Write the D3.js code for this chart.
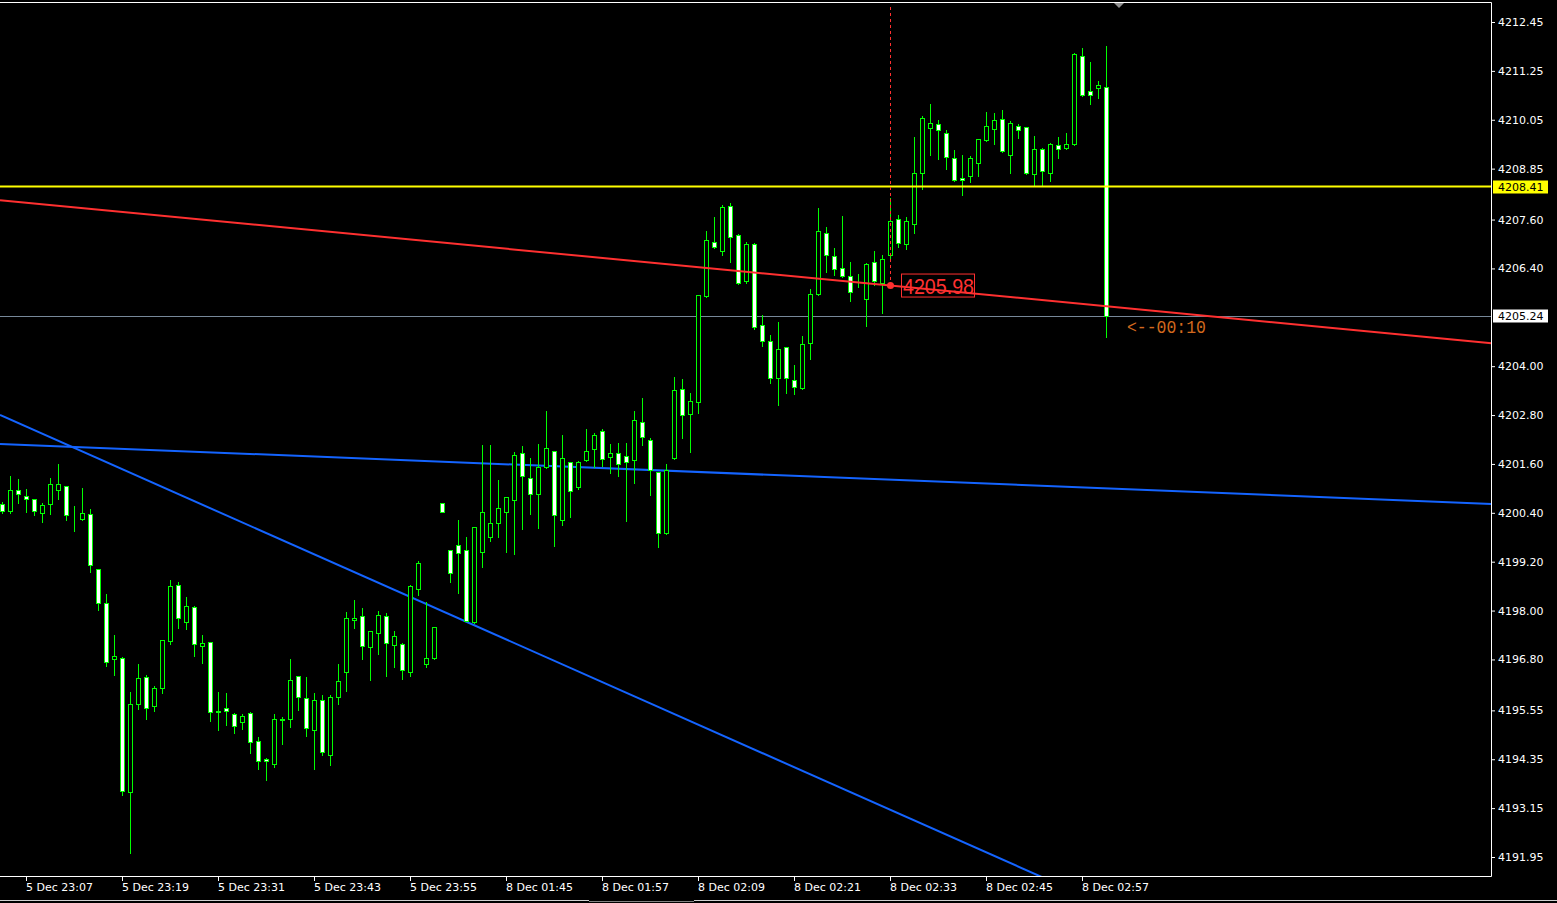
<!DOCTYPE html>
<html><head><meta charset="utf-8">
<script src="https://cdn.jsdelivr.net/npm/d3@7"></script>
<style>
html,body{margin:0;padding:0;background:#000;overflow:hidden;}
svg{display:block;}
</style></head>
<body>
<svg id="chart" width="1557" height="903"></svg>
<script>
// ---------------- DATA ----------------
const dec5Times = "23:04 23:05 23:06 23:07 23:08 23:09 23:10 23:11 23:12 23:13 23:14 23:15 23:16 23:17 23:18 23:19 23:20 23:21 23:22 23:23 23:24 23:25 23:26 23:27 23:28 23:29 23:30 23:31 23:32 23:33 23:34 23:35 23:36 23:37 23:38 23:39 23:40 23:41 23:42 23:43 23:44 23:45 23:46 23:47 23:48 23:49 23:50 23:51 23:52 23:53 23:54 23:55 23:56 23:57 23:58 23:59".split(" ");
const dec8Times = "01:38 01:39 01:40 01:41 01:42 01:43 01:44 01:45 01:46 01:47 01:48 01:49 01:50 01:51 01:52 01:53 01:54 01:55 01:56 01:57 01:58 01:59 02:00 02:01 02:02 02:03 02:04 02:05 02:06 02:07 02:08 02:09 02:10 02:11 02:12 02:13 02:14 02:15 02:16 02:17 02:18 02:19 02:20 02:21 02:22 02:23 02:24 02:25 02:26 02:27 02:28 02:29 02:30 02:31 02:32 02:33 02:34 02:35 02:36 02:37 02:38 02:39 02:40 02:41 02:42 02:43 02:44 02:45 02:46 02:47 02:48 02:49 02:50 02:51 02:52 02:53 02:54 02:55 02:56 02:57 02:58 02:59 03:00".split(" ");
const categories = dec5Times.map(t => "5 Dec " + t).concat(dec8Times.map(t => "8 Dec " + t));

const open = [4200.62,4200.45,4200.95,4200.81,4200.73,4200.40,4200.61,4200.95,4201.05,4200.28,
4200.24,4200.36,4199.01,4198.18,4196.80,4196.83,4193.55,4195.70,4196.36,4195.65,
4196.10,4197.25,4198.62,4197.71,4198.08,4197.12,4197.22,4195.52,4195.60,4195.45,
4195.26,4195.48,4194.81,4194.35,4194.23,4195.32,4195.33,4196.39,4195.85,4195.08,
4195.80,4194.45,4195.87,4196.48,4197.76,4197.86,4197.11,4197.46,4197.86,4197.16,
4197.19,4196.50,4198.52,4196.68,4196.84,4200.63,4199.48,4199.60,4199.48,4197.71,
4199.43,4199.80,4200.14,4200.41,4200.71,4201.86,4201.25,4200.85,4201.52,4201.91,
4200.22,4201.64,4201.03,4201.69,4201.96,4202.40,4201.76,4201.86,4201.79,4201.69,
4202.62,4202.20,4201.39,4199.90,4201.74,4203.43,4202.82,4203.11,4205.72,4207.04,
4206.84,4207.93,4207.21,4206.08,4206.99,4205.00,4204.61,4203.70,4204.46,4203.65,
4203.46,4204.56,4205.76,4207.26,4206.70,4206.40,4206.21,4206.01,4205.64,4206.55,
4206.03,4206.72,4207.61,4206.99,4207.48,4208.74,4209.84,4209.94,4209.72,4209.10,
4208.61,4208.66,4208.98,4209.55,4209.82,4210.06,4209.18,4209.89,4209.86,4208.71,
4209.32,4208.74,4209.42,4209.35,4209.45,4211.61,4210.75,4210.82,4210.85];
const high = [4200.67,4201.30,4201.23,4200.98,4200.75,4200.63,4201.25,4201.60,4201.07,4200.57,
4201.01,4200.49,4199.03,4198.41,4197.40,4196.85,4196.00,4196.69,4196.41,4196.14,
4197.28,4198.74,4198.69,4198.33,4198.10,4197.40,4197.23,4196.00,4195.98,4195.48,
4195.45,4195.50,4194.89,4194.37,4195.45,4195.38,4196.81,4196.40,4196.37,4195.97,
4195.92,4195.92,4196.68,4197.96,4198.25,4198.06,4197.50,4197.99,4197.93,4197.49,
4197.20,4198.63,4199.21,4198.20,4197.60,4200.63,4199.49,4200.22,4199.81,4200.05,
4202.06,4202.06,4201.20,4200.79,4201.89,4202.03,4201.74,4202.08,4202.89,4201.92,
4202.30,4201.65,4201.66,4202.45,4202.35,4202.47,4202.08,4202.11,4202.11,4202.89,
4203.21,4202.23,4201.40,4201.59,4203.73,4203.68,4203.33,4205.75,4207.32,4207.66,
4207.96,4208.00,4207.24,4207.04,4207.02,4205.25,4204.76,4205.08,4204.47,4204.02,
4204.73,4205.89,4207.88,4207.41,4206.89,4207.68,4206.57,4206.26,4206.53,4206.82,
4206.72,4208.12,4207.70,4207.66,4209.62,4210.14,4210.43,4210.04,4209.79,4209.30,
4209.18,4209.15,4209.58,4210.23,4210.21,4210.28,4210.01,4209.94,4209.87,4209.64,
4209.35,4209.47,4209.62,4209.72,4211.68,4211.80,4211.46,4211.00,4211.85];
const low = [4200.39,4200.39,4200.63,4200.43,4200.35,4200.18,4200.38,4200.75,4200.23,4199.96,
4200.22,4198.95,4198.02,4196.65,4196.42,4193.48,4192.05,4195.58,4195.33,4195.53,
4195.97,4197.17,4197.56,4197.55,4196.89,4196.72,4195.30,4195.07,4195.20,4195.00,
4195.10,4194.51,4194.12,4193.85,4194.15,4194.73,4195.13,4195.56,4194.93,4194.12,
4194.45,4194.20,4195.71,4196.02,4197.56,4196.82,4196.30,4196.94,4196.40,4196.62,
4196.33,4196.40,4198.39,4196.62,4196.82,4200.41,4198.71,4198.44,4197.74,4197.70,
4199.08,4199.72,4199.81,4199.44,4199.38,4200.01,4200.38,4200.03,4201.49,4199.59,
4200.09,4200.29,4200.98,4201.68,4201.52,4201.54,4201.37,4201.30,4200.19,4201.12,
4202.06,4200.83,4199.55,4199.89,4201.71,4202.23,4201.89,4202.85,4205.71,4206.91,
4206.72,4206.56,4206.02,4206.03,4204.91,4204.49,4203.58,4203.05,4203.33,4203.31,
4203.45,4204.17,4205.74,4206.32,4206.23,4206.20,4205.59,4205.94,4204.98,4205.99,
4205.30,4206.66,4206.92,4206.87,4207.28,4208.36,4209.18,4209.08,4208.83,4208.55,
4208.21,4208.53,4208.66,4209.54,4209.45,4209.27,4208.74,4209.59,4208.71,4208.44,
4208.44,4208.54,4209.10,4209.34,4209.42,4210.63,4210.43,4210.58,4204.71];
const close = [4200.45,4200.95,4200.85,4200.73,4200.45,4200.58,4201.10,4201.10,4200.34,4200.28,
4200.39,4199.11,4198.18,4196.73,4196.88,4193.58,4195.70,4196.34,4195.62,4196.09,
4197.27,4198.60,4197.81,4198.10,4197.17,4197.20,4195.50,4195.53,4195.53,4195.16,
4195.40,4194.77,4194.30,4194.30,4195.35,4195.33,4196.29,4195.89,4195.11,4195.80,
4194.52,4195.87,4196.26,4197.81,4197.81,4197.12,4197.49,4197.88,4197.21,4197.37,
4196.53,4198.60,4199.18,4196.83,4197.59,4200.41,4198.93,4199.41,4197.75,4200.04,
4200.41,4200.14,4200.51,4200.78,4201.81,4201.30,4200.85,4201.52,4201.98,4200.34,
4201.74,4200.93,4201.64,4201.91,4202.30,4201.71,4201.86,4201.59,4201.64,4202.67,
4202.25,4201.44,4199.90,4201.44,4203.41,4202.79,4203.14,4205.74,4207.11,4206.92,
4207.90,4207.16,4206.03,4206.99,4204.95,4204.61,4203.70,4204.41,4203.70,4203.50,
4204.54,4205.76,4207.31,4206.72,4206.38,4206.21,4205.81,4206.02,4206.52,4206.08,
4206.62,4207.56,4207.02,4207.56,4208.74,4210.09,4209.96,4209.79,4209.13,4208.56,
4208.56,4209.10,4209.57,4209.89,4210.04,4209.28,4209.96,4209.79,4208.74,4209.32,
4208.78,4209.45,4209.32,4209.45,4211.66,4210.67,4210.67,4210.90,4205.24];

const timeTickLabels = ["5 Dec 23:07","5 Dec 23:19","5 Dec 23:31","5 Dec 23:43","5 Dec 23:55",
  "8 Dec 01:45","8 Dec 01:57","8 Dec 02:09","8 Dec 02:21","8 Dec 02:33","8 Dec 02:45","8 Dec 02:57"];
const priceTickLabels = [4212.45,4211.25,4210.05,4208.85,4207.60,4206.40,4204.00,4202.80,
  4201.60,4200.40,4199.20,4198.00,4196.80,4195.55,4194.35,4193.15,4191.95];

const yellowLevel = 4208.41;
const bidPrice = 4205.24;
const redTrend = [["5 Dec 23:04", 4208.07], ["8 Dec 02:33", 4205.98]];
const blueTrendFlat = [["5 Dec 23:04", 4202.09], ["8 Dec 03:00", 4201.00]];
const blueTrendSteep = [["5 Dec 23:04", 4202.78], ["8 Dec 02:22", 4194.07]];
const markerPoint = ["8 Dec 02:33", 4205.98];
const countdownText = "<--00:10";

// ---------------- SCALES ----------------
const W = 1557, H = 903;
const plot = {left: 0, top: 2.5, right: 1491.5, bottom: 876.5};
const svg = d3.select("#chart");

const x = d3.scalePoint().domain(categories).range([2, 1106]);
const y = d3.scaleLinear().domain([4191.95, 4212.45]).range([857, 22]);

svg.append("rect").attr("width", W).attr("height", H).attr("fill", "#000");

svg.append("defs").append("clipPath").attr("id", "clip")
  .append("rect").attr("x", 0).attr("y", plot.top).attr("width", plot.right).attr("height", plot.bottom - plot.top);

const g = svg.append("g").attr("clip-path", "url(#clip)");

// bid line
g.append("line").attr("x1", 0).attr("x2", plot.right)
  .attr("y1", Math.round(y(bidPrice)) + 0.5).attr("y2", Math.round(y(bidPrice)) + 0.5)
  .attr("stroke", "#778899").attr("stroke-width", 1);

// trend lines (extended across the plot)
function drawTrend(pts, color) {
  const x1 = x(pts[0][0]), y1 = y(pts[0][1]);
  const x2 = x(pts[1][0]), y2 = y(pts[1][1]);
  const slope = (y2 - y1) / (x2 - x1);
  const xa = plot.left, xb = plot.right;
  g.append("line")
    .attr("x1", xa).attr("y1", y1 + slope * (xa - x1))
    .attr("x2", xb).attr("y2", y1 + slope * (xb - x1))
    .attr("stroke", color).attr("stroke-width", 2);
}
drawTrend(blueTrendFlat, "#1464ff");
drawTrend(blueTrendSteep, "#1464ff");

// candles
const bars = categories.map((c, i) => ({c, o: open[i], h: high[i], l: low[i], cl: close[i]}));
const cg = g.append("g").attr("shape-rendering", "crispEdges");
bars.forEach(d => {
  const cx = x(d.c);
  const yH = Math.round(y(d.h)), yL = Math.round(y(d.l));
  const yT = Math.round(y(Math.max(d.o, d.cl))), yB = Math.round(y(Math.min(d.o, d.cl)));
  cg.append("line").attr("x1", cx + 0.5).attr("x2", cx + 0.5)
    .attr("y1", yH).attr("y2", yL + 1).attr("stroke", "#00ff00").attr("stroke-width", 1);
  const bull = d.cl >= d.o;
  cg.append("rect").attr("x", cx - 1.5).attr("y", yT + 0.5)
    .attr("width", 4).attr("height", Math.max(0, yB - yT))
    .attr("fill", bull ? "#000" : "#fff")
    .attr("stroke", "#00ff00").attr("stroke-width", 1);
});

// red trend line and yellow level above candles
drawTrend(redTrend, "#ff3030");
g.append("line").attr("x1", 0).attr("x2", plot.right)
  .attr("y1", y(yellowLevel)).attr("y2", y(yellowLevel))
  .attr("stroke", "#ffff00").attr("stroke-width", 2);

// vertical dashed marker line
const mx = x(markerPoint[0]), my = y(markerPoint[1]);
g.append("line").attr("x1", mx + 0.5).attr("x2", mx + 0.5)
  .attr("y1", 7).attr("y2", my)
  .attr("stroke", "#ff3030").attr("stroke-width", 1).attr("stroke-dasharray", "3,3");
g.append("circle").attr("cx", mx + 0.5).attr("cy", my).attr("r", 3.5).attr("fill", "#ff3030");

// marker label
g.append("rect").attr("x", mx + 11.5).attr("y", my - 11.5).attr("width", 73).attr("height", 23)
  .attr("fill", "none").attr("stroke", "#ff3030").attr("stroke-width", 1);
g.append("text").attr("x", mx + 13).attr("y", my + 8)
  .attr("font-family", "Liberation Sans, Arial, sans-serif").attr("font-size", 22)
  .attr("textLength", 71).attr("lengthAdjust", "spacingAndGlyphs")
  .attr("fill", "#ff3030").text(markerPoint[1].toFixed(2));

// countdown text
g.append("text").attr("x", x(categories[categories.length - 1]) + 21).attr("y", y(bidPrice) + 17)
  .attr("font-family", "Liberation Mono, DejaVu Sans Mono, monospace").attr("font-size", 18)
  .attr("textLength", 79).attr("lengthAdjust", "spacingAndGlyphs")
  .attr("fill", "#d2691e").text(countdownText);

// chart-shift triangle
svg.append("path").attr("d", "M1114,3 L1124,3 L1119,8 Z").attr("fill", "#909090");

// frame
svg.append("path")
  .attr("d", `M0,${plot.top} H${plot.right} V${plot.bottom} H0`)
  .attr("fill", "none").attr("stroke", "#ffffff").attr("stroke-width", 1);

// x axis
const xAxis = d3.axisBottom(x).tickValues(timeTickLabels).tickSize(4).tickSizeOuter(0).tickFormat(d => d);
const xg = svg.append("g").attr("transform", `translate(0,${plot.bottom + 0.5})`).call(xAxis);
xg.select(".domain").remove();
xg.selectAll(".tick line").attr("stroke", "#ffffff");
xg.selectAll(".tick text").attr("fill", "#ffffff").attr("text-anchor", "start")
  .attr("x", -0.5).attr("y", 6).attr("dy", "0.71em")
  .attr("font-family", "DejaVu Sans, sans-serif").attr("font-size", 11);

// y axis
const yAxis = d3.axisRight(y).tickValues(priceTickLabels).tickSize(3).tickFormat(d3.format(".2f"));
const yg = svg.append("g").attr("transform", `translate(${plot.right + 0.5},0)`).call(yAxis);
yg.select(".domain").remove();
yg.selectAll(".tick line").attr("stroke", "#ffffff");
yg.selectAll(".tick text").attr("fill", "#ffffff").attr("x", 6)
  .attr("font-family", "DejaVu Sans, sans-serif").attr("font-size", 11);

// price labels on axis
function priceBox(p, bg) {
  const yy = Math.round(y(p));
  svg.append("rect").attr("x", 1493).attr("y", yy - 6.5).attr("width", 55).attr("height", 13).attr("fill", bg);
  svg.append("text").attr("x", 1498).attr("y", yy).attr("dy", "0.35em")
    .attr("font-family", "DejaVu Sans, sans-serif").attr("font-size", 11)
    .attr("fill", "#000").text(p.toFixed(2));
}
priceBox(yellowLevel, "#ffff00");
priceBox(bidPrice, "#ffffff");

// bottom window edge
svg.append("line").attr("x1", 0).attr("x2", 589).attr("y1", 900.5).attr("y2", 900.5).attr("stroke", "#d0d0d0");
svg.append("line").attr("x1", 589).attr("x2", 694).attr("y1", 901.5).attr("y2", 901.5).attr("stroke", "#808080");
svg.append("line").attr("x1", 694).attr("x2", W).attr("y1", 900.5).attr("y2", 900.5).attr("stroke", "#d0d0d0");
</script>
</body></html>
